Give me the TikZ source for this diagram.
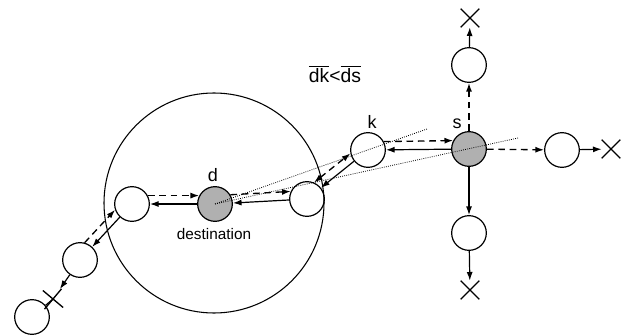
\documentclass[tikz,border=0pt]{standalone}
\usepackage{fontspec}
\setmainfont{Liberation Sans}
\usepackage{tikz}
\usetikzlibrary{arrows.meta,shapes.misc}

\begin{document}
\begin{tikzpicture}[
            x=0.75pt, y=-0.75pt,
            line width=0.9pt,
            >={Latex[length=6.5pt,width=4.5pt]},
            host/.style={circle, draw, minimum size=26pt, inner sep=0pt},
            shaded host/.style={host, fill=gray!62},
            dead/.style={cross out, draw, line width=1pt, minimum size=13pt, inner sep=0pt},
            req/.style={line width=1pt, dash pattern=on 5pt off 3.5pt},
            sight/.style={densely dotted, line width=0.6pt},
            label text/.style={font=\fontsize{13.5}{15}\selectfont},
            every node/.style={align=center}
    ]
        \useasboundingbox (0,0) rectangle (626,336);

        % Transmission range around the destination
        \node[circle, draw, line width=0.8pt, minimum size=165pt] (range) at (214,203) {};

        % Destination
        \node[shaded host] (d) at (215,204) {};
        \node[label text] (dlabel) at (213,175) {d};
        \node[font=\fontsize{11.5}{13}\selectfont] (dest) at (214,234) {destination};

        % Neighbours of the destination
        \node[host] (n1) at (132,204) {};
        \node[host] (n2) at (307,199) {};
        \node[host] (n3) at (80,260) {};
        \node[host] (n4) at (32,317) {};
        \node[dead, rotate=5] (x4) at (53,299) {};

        % Intermediate node k
        \node[host] (k) at (368,150) {};
        \node[label text] (klabel) at (372,122) {k};

        % Source
        \node[shaded host] (s) at (469,149) {};
        \node[label text] (slabel) at (457,124) {s};

        \node[host] (up) at (469,65) {};
        \node[host] (right) at (562,150) {};
        \node[host] (down) at (469,233) {};
        \node[dead] (xup) at (470,18) {};
        \node[dead] (xright) at (611,149) {};
        \node[dead] (xdown) at (470,290) {};

        % Distance condition
        \node[font=\fontsize{14.5}{16}\selectfont] (cond) at (335,74)
            {$\overline{\mbox{dk}}\mbox{<}\overline{\mbox{ds}}$};

        % Lines of sight from d
        \coordinate (kfar) at (427,129);
        \coordinate (sfar) at (518,138);
        \draw[sight] (d.center) -- (kfar);
        \draw[sight] (d.center) -- (sfar);

        % Arrows
        \draw[->, req] (n1.28) -- (d.152);
        \draw[->] (d) -- (n1);

        \draw[->, req] (d.31) -- (n2.155);
        \draw[->] (n2) -- (d);

        \draw[<->, req] (n2.67) -- (k.191);
        \draw[->] (k) -- (n2);

        \draw[->, req] (k.28) -- (s.152);
        \draw[->] (s) -- (k);

        \draw[->, req] (n3.75) -- (n1.199);
        \draw[->] (n1) -- (n3);
        \draw[->] (n3) -- (x4);
        \draw (x4.center) -- (n4);

        \draw[->, req] (s) -- (up);
        \draw[->] (up) -- (xup);
        \draw[->, req] (s) -- (right);
        \draw[->] (right) -- (xright);
        \draw[->] (s) -- (down);
        \draw[->] (down) -- (xdown);

    \end{tikzpicture}
\end{document}
